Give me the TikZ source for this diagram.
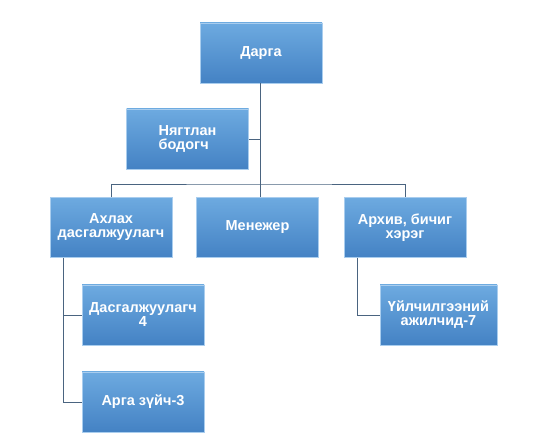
\documentclass[tikz,border=0pt]{standalone}
\usepackage{fontspec}
\setmainfont{Liberation Sans}
\definecolor{boxtop}{HTML}{6DAAE0}
\definecolor{boxbot}{HTML}{4482C4}
\definecolor{boxline}{HTML}{A9CDEE}
\definecolor{linkgray}{HTML}{4A6480}
\tikzset{
  unit/.style={minimum width=122pt, minimum height=60pt, inner sep=1pt,
    top color=boxtop, bottom color=boxbot, draw=boxline, line width=0.6pt,
    text=white, font=\fontsize{14.5}{14}\selectfont\bfseries, align=center},
  link/.style={draw=linkgray, line width=0.8pt}
}
\begin{document}
\begin{tikzpicture}[x=1pt, y=1pt]
    \useasboundingbox (0,0) rectangle (544,-443);

    % Head
    \node[unit] (darga) at (261,-53) {Дарга};

    % Assistant
    \node[unit, align=left] (nyagtlan) at (187.5,-139) {Нягтлан\\бодогч};

    % Second row
    \node[unit] (akhlakh) at (111,-227.5) {Ахлах\\дасгалжуулагч};
    \node[unit] (menejer) at (257.5,-227.5) {Менежер};
    \node[unit] (arkhiv) at (405,-227.5) {Архив, бичиг\\хэрэг};

    % Third level
    \node[unit] (dasgal) at (143,-315) {Дасгалжуулагч\\4};
    \node[unit] (arga) at (143,-402) {Арга зүйч-3};
    \node[unit, minimum width=117pt] (uilchilgee) at (438.5,-315) {Үйлчилгээний\\ажилчид-7};

    % Links
    \coordinate (bar) at (260,-184);
    \draw[link] (darga.south) ++(-1,0) coordinate (trunk) -- (trunk |- menejer.north);
    \draw[link] (nyagtlan.east) -- (nyagtlan.east -| trunk);
    \draw[link] (akhlakh.north) |- (bar) -| (arkhiv.north);

    \coordinate (lefttrunk) at ([xshift=-48pt]akhlakh.south);
    \draw[link] (lefttrunk) |- (dasgal.west);
    \draw[link] (lefttrunk) |- (arga.west);

    \coordinate (righttrunk) at ([xshift=-48pt]arkhiv.south);
    \draw[link] (righttrunk) |- (uilchilgee.west);
\end{tikzpicture}
\end{document}
